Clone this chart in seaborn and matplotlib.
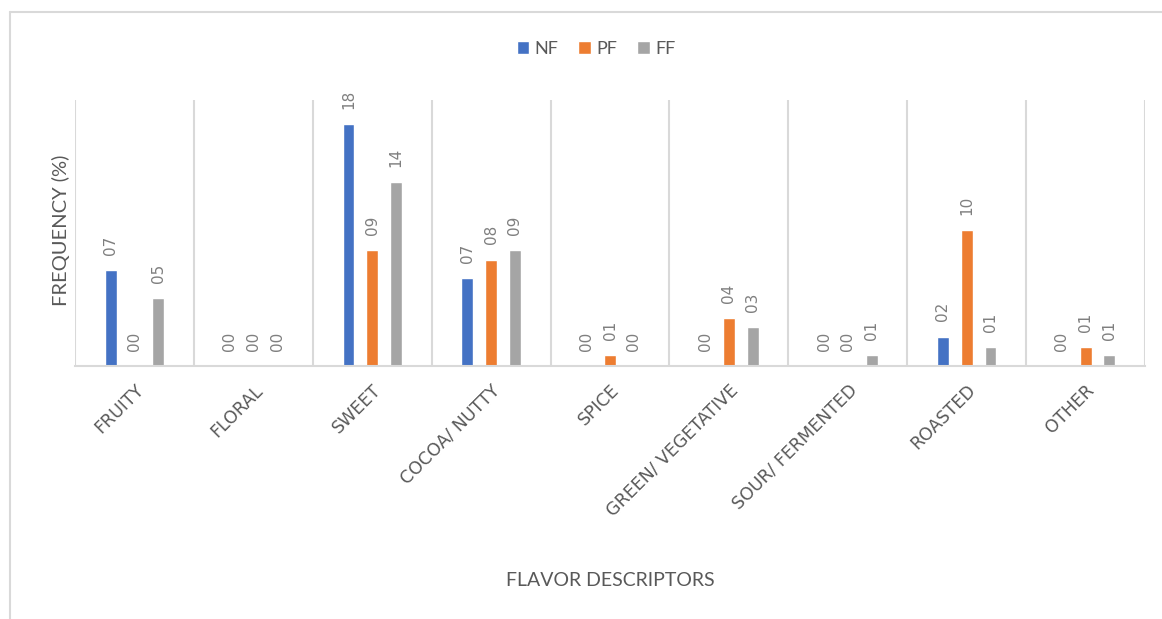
import matplotlib
matplotlib.use("Agg")
import matplotlib.pyplot as plt
from matplotlib.lines import Line2D
import numpy as np
import pandas as pd
import seaborn as sns

# Flavor descriptor frequencies (%) for the three sample groups
descriptors = ["FRUITY", "FLORAL", "SWEET", "COCOA/ NUTTY", "SPICE",
               "GREEN/ VEGETATIVE", "SOUR/ FERMENTED", "ROASTED", "OTHER"]
groups = ["NF", "PF", "FF"]
nf_values = [7.2, 0.0, 18.2, 6.6, 0.0, 0.0, 0.0, 2.2, 0.0]
pf_values = [0.0, 0.0, 8.7, 8.0, 0.8, 3.6, 0.0, 10.2, 1.4]
ff_values = [5.1, 0.0, 13.8, 8.7, 0.0, 2.9, 0.8, 1.4, 0.8]
group_colors = ["#4472C4", "#ED7D31", "#A5A5A5"]

df = pd.DataFrame({
    "descriptor": descriptors * 3,
    "group": [g for g in groups for _ in descriptors],
    "freq": nf_values + pf_values + ff_values,
})

sns.set_theme(style="white")
plt.rcParams["font.family"] = ["Lato", "DejaVu Sans"]

W, H = 1162, 619
fig = plt.figure(figsize=(W / 100, H / 100), dpi=100)
ax = fig.add_axes([75 / W, 1 - 366 / H, 1070 / W, 266 / H])

sns.barplot(data=df, x="descriptor", y="freq", hue="group", order=descriptors,
            hue_order=groups, palette=group_colors, width=0.6, gap=0.5,
            saturation=1, errorbar=None, ax=ax)

ax.set_ylim(0, 20)
ax.set_xlim(-0.5, len(descriptors) - 0.5)

# Category separators
ax.set_xticks(np.arange(-0.5, len(descriptors)), minor=True)
ax.grid(which="minor", axis="x", color="#D9D9D9", linewidth=1.5)
ax.grid(which="major", visible=False)
ax.set_axisbelow(True)
ax.tick_params(which="both", length=0)
ax.set_yticks([])

for side in ["left", "right", "top"]:
    ax.spines[side].set_visible(False)
ax.spines["bottom"].set_color("#D9D9D9")
ax.spines["bottom"].set_linewidth(1.5)

# Value labels on each bar
for cont in ax.containers:
    ax.bar_label(cont, fmt="{:02.0f}", rotation=90, padding=11,
                 fontsize=11, color="#7F7F7F", family="DejaVu Sans")

ax.set_xticks(range(len(descriptors)))
ax.set_xticklabels(descriptors, rotation=45, ha="right", rotation_mode="anchor",
                   fontsize=12.5, color="#595959", family="DejaVu Sans")
ax.tick_params(axis="x", which="major", pad=11)

ax.set_xlabel("FLAVOR DESCRIPTORS", fontsize=14, color="#595959")
ax.xaxis.set_label_coords(0.5, -0.774)
ax.set_ylabel("FREQUENCY (%)", fontsize=14.5, color="#595959")
ax.yaxis.set_label_coords(-0.005, 0.51)

ax.legend(loc="center", bbox_to_anchor=(596 / W, 1 - 49 / H),
          bbox_transform=fig.transFigure, ncol=3, frameon=False,
          handlelength=0.7, handleheight=0.7, handletextpad=0.3,
          columnspacing=1.1, fontsize=13, labelcolor="#595959")

# Outer chart border
fig.add_artist(Line2D([10 / W, 10 / W], [0, 1 - 12 / H], color="#D9D9D9",
                      linewidth=1.5, transform=fig.transFigure))
fig.add_artist(Line2D([10 / W, 1], [1 - 12 / H, 1 - 12 / H], color="#D9D9D9",
                      linewidth=1.5, transform=fig.transFigure))

fig.savefig("out.png", dpi=100)
